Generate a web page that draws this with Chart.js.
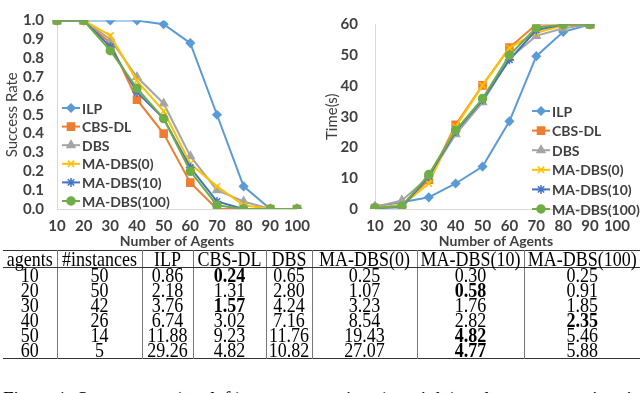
<!DOCTYPE html>
<html>
<head>
<meta charset="utf-8">
<script src="https://cdn.jsdelivr.net/npm/chart.js@4.4.1/dist/chart.umd.min.js"></script>
<style>
  html, body { margin: 0; padding: 0; background: #fff; }
  body { width: 640px; height: 393px; overflow: hidden; position: relative; }
  .box { position: absolute; top: 0; width: 320px; height: 250px; }
  #tbl {
    position: absolute; top: 250px; left: 3px; width: 637px;
    border-collapse: collapse; table-layout: fixed;
    font-family: 'Liberation Serif', 'Times New Roman', serif; font-size: 18px; color: #000;
    border-top: 1px solid #333; border-bottom: 1px solid #333;
  }
  #tbl th, #tbl td { padding: 0; text-align: center; font-weight: normal; line-height: 15px; overflow: visible; white-space: nowrap; }
  #tbl th { height: 16px; border-bottom: 1px solid #333; }
  #tbl td { height: 15px; }
  #tbl th + th, #tbl td + td { border-left: 1px solid #777; }
  #tbl span { display: inline-block; transform: scaleY(1.12); }
  #tbl b { font-weight: bold; }
  #caption {
    position: absolute; left: 3px; top: 389px; white-space: nowrap;
    font-family: 'Liberation Serif', 'Times New Roman', serif; font-size: 19px; line-height: 19px; color: #000;
  }
</style>
</head>
<body>
<div class="box" style="left:0"><canvas id="graficoSucesso"></canvas></div>
<div class="box" style="left:320px"><canvas id="graficoTempo"></canvas></div>
<table id="tbl"></table>
<div id="caption">Figure 1: Success rate (top left), average runtime (top right) and average running time over all instances</div>

<script>
const agents = ['10', '20', '30', '40', '50', '60', '70', '80', '90', '100'];
const seriesNames = ['ILP', 'CBS-DL', 'DBS', 'MA-DBS(0)', 'MA-DBS(10)', 'MA-DBS(100)'];
const seriesColors = ['#5B9BD5', '#ED7D31', '#A5A5A5', '#FFC000', '#4472C4', '#70AD47'];
const seriesMarkers = ['rectRot', 'rect', 'triangle', 'crossRot', 'star', 'circle'];
const markerSizes = [4, 5, 4.5, 4.5, 4.5, 4];

// success rate per number of agents
const successILP    = [1, 1, 1, 1, 0.98, 0.88, 0.50, 0.12, 0, 0];
const successCBSDL  = [1, 1, 0.88, 0.58, 0.40, 0.14, 0, 0, 0, 0];
const successDBS    = [1, 1, 0.90, 0.70, 0.56, 0.28, 0.10, 0.04, 0, 0];
const successMA0    = [1, 1, 0.92, 0.68, 0.52, 0.24, 0.12, 0.02, 0, 0];
const successMA10   = [1, 1, 0.86, 0.62, 0.48, 0.22, 0.04, 0, 0, 0];
const successMA100  = [1, 1, 0.84, 0.64, 0.48, 0.20, 0.02, 0, 0, 0];

// run time (s), nothing plotted at 100
const timeILP   = [0.9, 2.2, 3.8, 8.3, 13.8, 28.5, 49.7, 57.6, 60, null];
const timeCBSDL = [0.3, 1.3, 9.5, 27.4, 40.2, 52.5, 60, 60, 60, null];
const timeDBS   = [0.7, 2.8, 10.4, 24.3, 34.7, 49, 56.3, 58.8, 60, null];
const timeMA0   = [0.3, 1.1, 8.3, 26.8, 40.2, 52.4, 57.3, 59.7, 60, null];
const timeMA10  = [0.3, 0.6, 10.6, 25.2, 35.5, 48.5, 58.2, 60, 60, null];
const timeMA100 = [0.3, 0.9, 11.2, 25.6, 35.9, 50, 59, 60, 60, null];

const successTicks = [0, 0.1, 0.2, 0.3, 0.4, 0.5, 0.6, 0.7, 0.8, 0.9, 1.0];
const timeTicks = [0, 10, 20, 30, 40, 50, 60];

// table
const tableHead = ['agents', '#instances', 'ILP', 'CBS-DL', 'DBS', 'MA-DBS(0)', 'MA-DBS(10)', 'MA-DBS(100)'];
const tableAgents = ['10', '20', '30', '40', '50', '60'];
const tableInstances = ['50', '50', '42', '26', '14', '5'];
const tableILP = ['0.86', '2.18', '3.76', '6.74', '11.88', '29.26'];
const tableCBSDL = ['0.24', '1.31', '1.57', '3.02', '9.23', '4.82'];
const tableDBS = ['0.65', '2.80', '4.24', '7.16', '11.76', '10.82'];
const tableMA0 = ['0.25', '1.07', '3.23', '8.54', '19.43', '27.07'];
const tableMA10 = ['0.30', '0.58', '1.76', '2.82', '4.82', '4.77'];
const tableMA100 = ['0.25', '0.91', '1.85', '2.35', '5.46', '5.88'];
const tableBoldCol = [3, 6, 3, 7, 6, 6];
const colWidths = [54, 85, 51, 73, 46, 105, 107, 116];

const FONT = "Lato, 'Open Sans', sans-serif";
const TEXT = '#404040';
const AXIS = '#D9D9D9';

// legend drawn inside the plot, like the excel one
const innerLegend = {
  id: 'innerLegend',
  afterDraw(chart, args, opts) {
    const ctx = chart.ctx;
    ctx.save();
    chart.data.datasets.forEach((ds, i) => {
      const y = opts.y + i * opts.step;
      ctx.strokeStyle = ds.borderColor;
      ctx.lineWidth = 2;
      ctx.beginPath();
      ctx.moveTo(opts.x, y);
      ctx.lineTo(opts.x + 18, y);
      ctx.stroke();
      ctx.fillStyle = ds.backgroundColor;
      ctx.lineWidth = 1.5;
      if (Chart.helpers && Chart.helpers.drawPoint) {
        Chart.helpers.drawPoint(ctx, { pointStyle: ds.pointStyle, radius: ds.pointRadius, rotation: 0, borderWidth: 1.5 }, opts.x + 9, y);
      }
      ctx.fillStyle = TEXT;
      ctx.font = 'bold 14px ' + FONT;
      ctx.textBaseline = 'middle';
      ctx.textAlign = 'left';
      ctx.fillText(ds.label, opts.x + 20, y + 1);
    });
    ctx.restore();
  }
};

function buildDatasets(values) {
  return values.map((v, i) => ({
    label: seriesNames[i],
    data: v,
    borderColor: seriesColors[i],
    backgroundColor: seriesColors[i],
    pointStyle: seriesMarkers[i],
    pointRadius: markerSizes[i],
    pointBorderWidth: 1.5,
    borderWidth: 2,
    tension: 0,
    order: values.length - i
  }));
}

function createGrafico(id, values, ticks, yTitle, yWidth, yPad, decimals, legend) {
  const ctx = document.getElementById(id).getContext('2d');
  new Chart(ctx, {
    type: 'line',
    data: { labels: agents, datasets: buildDatasets(values) },
    plugins: [innerLegend],
    options: {
      responsive: true,
      maintainAspectRatio: false,
      animation: false,
      spanGaps: false,
      layout: { padding: { top: 7, right: 15, left: 0, bottom: 0 } },
      plugins: {
        legend: { display: false },
        tooltip: { enabled: false },
        innerLegend: legend
      },
      scales: {
        x: {
          offset: false,
          grid: { display: false, drawTicks: false },
          border: { display: true, color: AXIS, width: 1 },
          ticks: { color: TEXT, padding: 10, maxRotation: 0, autoSkip: false, font: { family: FONT, size: 15, weight: 'bold', lineHeight: 1 } },
          title: { display: true, text: 'Number of Agents', color: TEXT, padding: 0, font: { family: FONT, size: 14, weight: 'bold' } },
          afterFit: s => { s.height = 41; }
        },
        y: {
          min: ticks[0],
          max: ticks[ticks.length - 1],
          afterBuildTicks: s => { s.ticks = ticks.map(v => ({ value: v })); },
          grid: { display: false, drawTicks: false },
          border: { display: true, color: AXIS, width: 1 },
          ticks: {
            color: TEXT, padding: yPad,
            font: { family: FONT, size: 15, weight: 'bold', lineHeight: 1 },
            callback: v => Number(v).toFixed(decimals)
          },
          title: { display: true, text: yTitle, color: '#404040', padding: { top: 3, bottom: 0 }, font: { family: FONT, size: 15 } },
          afterFit: s => { s.width = yWidth; }
        }
      }
    }
  });
}

function createTabela() {
  const tbl = document.getElementById('tbl');
  const cols = [tableAgents, tableInstances, tableILP, tableCBSDL, tableDBS, tableMA0, tableMA10, tableMA100];
  let html = '<colgroup>' + colWidths.map(w => `<col style="width:${w}px">`).join('') + '</colgroup>';
  html += '<tr>' + tableHead.map(h => `<th><span>${h}</span></th>`).join('') + '</tr>';
  tableAgents.forEach((a, r) => {
    html += '<tr>' + cols.map((c, k) => k === tableBoldCol[r] ? `<td><span><b>${c[r]}</b></span></td>` : `<td><span>${c[r]}</span></td>`).join('') + '</tr>';
  });
  tbl.innerHTML = html;
}

createGrafico('graficoSucesso',
  [successILP, successCBSDL, successDBS, successMA0, successMA10, successMA100],
  successTicks, 'Success Rate', 57, 13, 1, { x: 62, y: 108, step: 18.6 });
createGrafico('graficoTempo',
  [timeILP, timeCBSDL, timeDBS, timeMA0, timeMA10, timeMA100],
  timeTicks, 'Time(s)', 55, 17, 0, { x: 212, y: 111, step: 19.6 });
createTabela();
</script>
</body>
</html>
